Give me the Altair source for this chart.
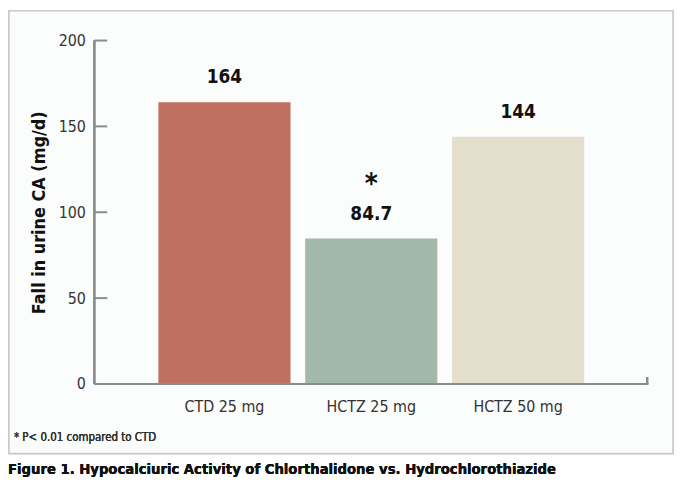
import altair as alt
import pandas as pd

categories = ["CTD 25 mg", "HCTZ 25 mg", "HCTZ 50 mg"]
values = [164, 84.7, 144]
value_labels = ["164", "84.7", "144"]
markers = ["", "*", ""]
colors = ["#c07060", "#a3b8a8", "#e4dfcc"]
y_ticks = [0, 50, 100, 150, 200]

FONT = "DejaVu Sans Condensed, Roboto"
W, H = 558, 346
PL, PT = 87, 31

df = pd.DataFrame({"cat": categories, "val": values, "lab": value_labels, "mark": markers})
ticks_df = pd.DataFrame({"t": y_ticks})

xscale = alt.Scale(domain=categories, paddingInner=0.1, paddingOuter=0.436)
yscale = alt.Scale(domain=[0, 200], nice=False)

frame = alt.Chart(df).mark_rect(fill="#fbfcfc", stroke="#c9c9c9", strokeWidth=1.5).encode(
    x=alt.value(-PL + 1), x2=alt.value(670 - PL), y=alt.value(-PT + 1), y2=alt.value(447 - PT)
)

bars = alt.Chart(df).mark_bar().encode(
    x=alt.X("cat:N", scale=xscale, sort=categories,
            axis=alt.Axis(title=None, labelAngle=0, ticks=False, domain=False, zindex=1,
                          labelFont=FONT, labelFontSize=16, labelColor="#333333",
                          labelPadding=15)),
    y=alt.Y("val:Q", scale=yscale,
            axis=alt.Axis(title="Fall in urine CA (mg/d)", values=y_ticks, ticks=False,
                          domain=False, grid=False, zindex=1, labelFont=FONT, labelFontSize=16,
                          labelColor="#333333", labelPadding=9,
                          titleFont=FONT, titleFontSize=18, titleFontWeight="bold",
                          titleColor="#111111", titlePadding=10)),
    color=alt.Color("cat:N", scale=alt.Scale(domain=categories, range=colors), legend=None),
)

labels = alt.Chart(df).mark_text(font=FONT, fontSize=19, fontWeight="bold", color="#111111",
                                 baseline="bottom", dy=-15).encode(
    x=alt.X("cat:N", scale=xscale, sort=categories),
    y=alt.Y("val:Q", scale=yscale),
    text="lab:N",
)

stars = alt.Chart(df).mark_text(font=FONT, fontSize=28, fontWeight="bold", color="#111111",
                                baseline="bottom", dy=-40).encode(
    x=alt.X("cat:N", scale=xscale, sort=categories),
    y=alt.Y("val:Q", scale=yscale),
    text="mark:N",
)

yaxis_line = alt.Chart(df).mark_rule(color="#8c8c8c", strokeWidth=2).encode(
    x=alt.value(0), y=alt.value(0), y2=alt.value(H)
)
xaxis_line = alt.Chart(df).mark_rule(color="#8c8c8c", strokeWidth=2).encode(
    x=alt.value(0), x2=alt.value(W), y=alt.value(H)
)
end_tick = alt.Chart(df).mark_rule(color="#8c8c8c", strokeWidth=2).encode(
    x=alt.value(W - 1), y=alt.value(H - 7), y2=alt.value(H)
)
yticks = alt.Chart(ticks_df).mark_rule(color="#8c8c8c", strokeWidth=2).encode(
    y=alt.Y("t:Q", scale=yscale), x=alt.value(0), x2=alt.value(13)
)

footnote = alt.Chart(df).mark_text(font="DejaVu Sans Condensed", fontSize=11.5,
                                   fontWeight="normal", color="#333333",
                                   align="left", baseline="alphabetic",
                                   text="* P< 0.01 compared to CTD").encode(
    x=alt.value(14 - 8 - PL), y=alt.value(442 - 8 - PT)
)
caption = alt.Chart(df).mark_text(font=FONT, fontSize=14.8, fontWeight="bold", color="#111111",
                                  align="left", baseline="alphabetic",
                                  text="Figure 1. Hypocalciuric Activity of Chlorthalidone vs. Hydrochlorothiazide").encode(
    x=alt.value(-PL), y=alt.value(476 - 8 - PT)
)

chart = alt.layer(frame, bars, labels, stars, yticks, yaxis_line, xaxis_line, end_tick,
                  footnote, caption).properties(
    width=W, height=H,
    autosize=alt.AutoSizeParams(type="none"),
    padding={"left": PL, "top": PT, "right": 671 - PL - W, "bottom": 474 - PT - H},
    background="white",
).configure_view(stroke=None)

chart.save("out.html", embed_options={"renderer": "svg", "actions": False})
